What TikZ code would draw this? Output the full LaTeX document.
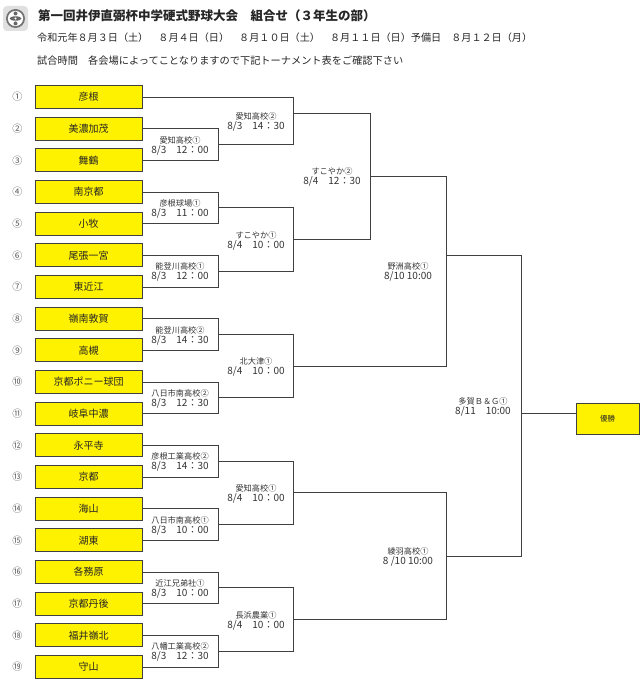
\documentclass[tikz,border=0pt]{standalone}
\usepackage{fontspec}
\setmainfont{Noto Sans CJK JP}
\newcommand{\matchlabel}[5]{%
  \node[venue] (#1v) at (#2,#3-4.5) {#4};
  \node[tm] (#1t) at (#2,#3+5.5) {#5};}
\begin{document}
\begin{tikzpicture}[x=1pt,y=-1pt,
  team/.style={draw=black!75, line width=0.9pt, fill=yellow, minimum width=107pt,
    minimum height=23pt, inner sep=0pt, font=\fontsize{10}{10}\selectfont, text=black!85},
  champ/.style={draw=black!75, line width=0.9pt, fill=yellow, minimum width=63pt,
    minimum height=31pt, inner sep=0pt, font=\fontsize{7.5}{7.5}\selectfont, text=black!85},
  num/.style={font=\fontsize{10}{10}\selectfont, text=black!65, inner sep=0pt},
  br/.style={draw=black!75, line width=0.8pt},
  venue/.style={font=\fontsize{8.2}{8.2}\selectfont, text=black!80, inner sep=0pt},
  tm/.style={font=\fontsize{10}{10}\selectfont, text=black!80, inner sep=0pt},
  head/.style={anchor=west, inner sep=0pt, text=black!85},
]
\useasboundingbox (0,0) rectangle (640,679);
\fill[white] (0,0) rectangle (640,679);

% logo
\fill[black!12, rounded corners=4pt] (3,6) rectangle (28,31);
\fill[black!55] (15.5,18.5) circle (9.5);
\fill[white] (15.5,18.5) circle (7.6);
\fill[black!60] (15.5,18.5) ellipse (6 and 2.2);
\fill[black!60] (15.5,13.5) circle (2);
\fill[black!60] (15.5,23.5) circle (2);
\fill[white] (15.5,18.5) circle (1.2);

% header
\node[head, font=\fontsize{12.5}{12.5}\selectfont\bfseries] (title) at (38,15.5) {第一回井伊直弼杯中学硬式野球大会　組合せ（３年生の部）};
\node[head, font=\fontsize{10.1}{10.1}\selectfont] (dates) at (37,38) {令和元年８月３日（土）　８月４日（日）　８月１０日（土）　８月１１日（日）予備日　８月１２日（月）};
\node[head, font=\fontsize{10.2}{10.2}\selectfont] (note) at (37,61) {試合時間　各会場によってことなりますので下記トーナメント表をご確認下さい};

% teams
\foreach \i/\name/\c in {1/彦根/①,2/美濃加茂/②,3/舞鶴/③,4/南京都/④,5/小牧/⑤,6/尾張一宮/⑥,
  7/東近江/⑦,8/嶺南敦賀/⑧,9/高槻/⑨,10/京都ポニー球団/⑩,11/岐阜中濃/⑪,12/永平寺/⑫,
  13/京都/⑬,14/海山/⑭,15/湖東/⑮,16/各務原/⑯,17/京都丹後/⑰,18/福井嶺北/⑱,19/守山/⑲}{
  \pgfmathsetmacro\yy{97+(\i-1)*31.667}
  \node[team] (t\i) at (88.5,\yy) {\name};
  \node[num] (n\i) at (17.5,\yy) {\c};
}

% junction coordinates (x of vertical, y of exit)
\coordinate (m1) at (218,144.5);
\coordinate (m2) at (218,207.8);
\coordinate (m3) at (218,271.2);
\coordinate (m4) at (218,334.5);
\coordinate (m5) at (218,397.8);
\coordinate (m6) at (218,461.2);
\coordinate (m7) at (218,524.5);
\coordinate (m8) at (218,587.8);
\coordinate (m9) at (218,651.2);
\coordinate (r2a) at (293,113);
\coordinate (r2b) at (293,239.5);
\coordinate (r2c) at (293,366.2);
\coordinate (r2d) at (293,492.8);
\coordinate (r2e) at (293,619.5);
\coordinate (r3a) at (370,176.2);
\coordinate (r4a) at (446,255);
\coordinate (r4b) at (446,556);
\coordinate (fin) at (521,413.5);

% champion box
\node[champ] (win) at (607.5,418.5) {優勝};

% bracket lines
\foreach \a/\b/\m in {t2/t3/m1,t4/t5/m2,t6/t7/m3,t8/t9/m4,t10/t11/m5,t12/t13/m6,t14/t15/m7,t16/t17/m8,t18/t19/m9}{
  \draw[br] (\a.east) -| (\m);
  \draw[br] (\b.east) -| (\m);
}
\draw[br] (t1.east) -| (r2a);
\draw[br] (m1) -| (r2a);
\draw[br] (m2) -| (r2b);
\draw[br] (m3) -| (r2b);
\draw[br] (m4) -| (r2c);
\draw[br] (m5) -| (r2c);
\draw[br] (m6) -| (r2d);
\draw[br] (m7) -| (r2d);
\draw[br] (m8) -| (r2e);
\draw[br] (m9) -| (r2e);
\draw[br] (r2a) -| (r3a);
\draw[br] (r2b) -| (r3a);
\draw[br] (r3a) -| (r4a);
\draw[br] (r2c) -| (r4a);
\draw[br] (r2d) -| (r4b);
\draw[br] (r2e) -| (r4b);
\draw[br] (r4a) -| (fin);
\draw[br] (r4b) -| (fin);
\draw[br] (fin) -- (fin -| win.west);

% match labels
\matchlabel{L1}{180}{144.5}{愛知高校①}{8/3　12：00}
\matchlabel{L2}{180}{207.8}{彦根球場①}{8/3　11：00}
\matchlabel{L3}{180}{271.2}{能登川高校①}{8/3　12：00}
\matchlabel{L4}{180}{334.5}{能登川高校②}{8/3　14：30}
\matchlabel{L5}{180}{397.8}{八日市南高校②}{8/3　12：30}
\matchlabel{L6}{180}{461.2}{彦根工業高校②}{8/3　14：30}
\matchlabel{L7}{180}{524.5}{八日市南高校①}{8/3　10：00}
\matchlabel{L8}{180}{587.8}{近江兄弟社①}{8/3　10：00}
\matchlabel{L9}{180}{651.2}{八幡工業高校②}{8/3　12：30}
\matchlabel{La}{256}{120.8}{愛知高校②}{8/3　14：30}
\matchlabel{Lb}{256}{239.5}{すこやか①}{8/4　10：00}
\matchlabel{Lc}{256}{366.2}{北大津①}{8/4　10：00}
\matchlabel{Ld}{256}{492.8}{愛知高校①}{8/4　10：00}
\matchlabel{Le}{256}{619.5}{長浜農業①}{8/4　10：00}
\matchlabel{Lf}{332}{176.2}{すこやか②}{8/4　12：30}
\matchlabel{Lg}{408}{271.2}{野洲高校①}{8/10 10:00}
\matchlabel{Lh}{408}{556}{綾羽高校①}{8 /10 10:00}
\matchlabel{Li}{483}{406}{多賀Ｂ＆Ｇ①}{8/11　10:00}
\end{tikzpicture}
\end{document}
